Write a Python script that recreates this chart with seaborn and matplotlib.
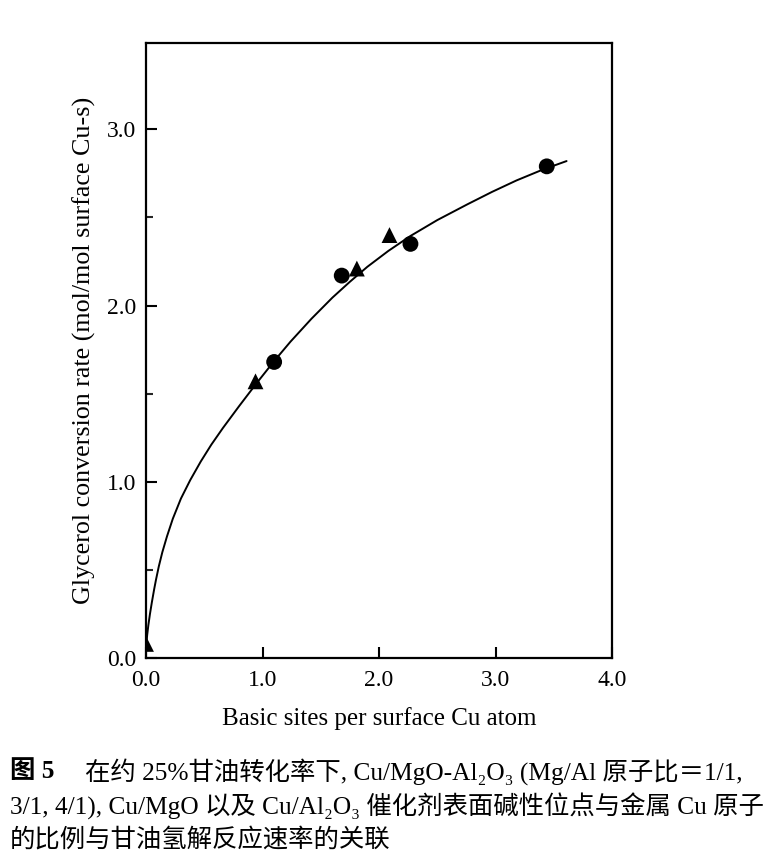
import matplotlib
matplotlib.use("Agg")
import matplotlib.pyplot as plt
import seaborn as sns
import pandas as pd
from matplotlib.ticker import MultipleLocator

# ---- data ----
circle_x = [1.10, 1.68, 2.27, 3.44]
circle_y = [1.68, 2.17, 2.35, 2.79]
triangle_x = [0.0, 0.94, 1.81, 2.09]
triangle_y = [0.08, 1.57, 2.21, 2.40]
curve_x = [0.0, 0.01, 0.02, 0.034, 0.05, 0.07, 0.086, 0.11, 0.14, 0.18, 0.23, 0.30,
           0.38, 0.47, 0.56, 0.66, 0.80, 0.95, 1.10, 1.24, 1.42, 1.60, 1.75, 1.90,
           2.08, 2.27, 2.50, 2.76, 2.97, 3.18, 3.40, 3.61]
curve_y = [0.05, 0.13, 0.185, 0.25, 0.315, 0.39, 0.445, 0.52, 0.60, 0.69, 0.79, 0.905,
           1.01, 1.115, 1.21, 1.305, 1.43, 1.56, 1.685, 1.795, 1.925, 2.045, 2.135, 2.22,
           2.31, 2.395, 2.485, 2.575, 2.645, 2.71, 2.77, 2.82]
x_ticks = [0.0, 1.0, 2.0, 3.0, 4.0]
y_ticks = [0.0, 1.0, 2.0, 3.0]
x_label = "Basic sites per surface Cu atom"
y_label = "Glycerol conversion rate (mol/mol surface Cu-s)"
caption_head = "图 5"
caption_lines = [
    "在约 25%甘油转化率下, Cu/MgO-Al₂O₃ (Mg/Al 原子比＝1/1,",
    "3/1, 4/1), Cu/MgO 以及 Cu/Al₂O₃ 催化剂表面碱性位点与金属 Cu 原子",
    "的比例与甘油氢解反应速率的关联",
]

sns.set_theme(style="ticks")
plt.rcParams["font.family"] = ["Liberation Serif", "Noto Sans CJK SC", "DejaVu Serif"]
plt.rcParams["axes.edgecolor"] = "black"
plt.rcParams["xtick.direction"] = "in"
plt.rcParams["ytick.direction"] = "in"

pts = pd.DataFrame({
    "x": circle_x + triangle_x,
    "y": circle_y + triangle_y,
    "kind": ["circle"] * len(circle_x) + ["triangle"] * len(triangle_x),
})
curve = pd.DataFrame({"x": curve_x, "y": curve_y})

fig = plt.figure(figsize=(7.72, 8.6), dpi=100)
ax = fig.add_axes([146 / 772, 1 - 658 / 860, (612 - 146) / 772, (658 - 43) / 860])

sns.lineplot(data=curve, x="x", y="y", ax=ax, color="black", linewidth=1.4,
             sort=False, estimator=None)
sns.scatterplot(data=pts, x="x", y="y", style="kind", markers={"circle": "o", "triangle": "^"},
                ax=ax, color="black", s=130, edgecolor="black", linewidth=0, legend=False,
                zorder=3)

ax.set_xlim(0, 4.0)
ax.set_ylim(0, 3.49)
ax.set_xticks(x_ticks)
ax.set_yticks(y_ticks)
ax.set_xticklabels([f"{v:.1f}" for v in x_ticks])
ax.set_yticklabels([f"{v:.1f}" for v in y_ticks])
ax.yaxis.set_minor_locator(MultipleLocator(0.5))
ax.tick_params(axis="both", which="major", direction="in", length=8, width=1.5,
               labelsize=17, colors="black", pad=7)
ax.tick_params(axis="x", which="major", pad=9)
ax.tick_params(axis="y", which="minor", direction="in", length=5, width=1.5)
for sp in ax.spines.values():
    sp.set_linewidth(1.6)
    sp.set_color("black")

ax.set_xlabel(x_label, fontsize=18, labelpad=11, color="black")
ax.set_ylabel(y_label, fontsize=18.7, labelpad=8, color="black")

fig.text(10 / 772, 1 - 772 / 860, caption_head, fontsize=18.3, fontweight="bold",
         va="center", ha="left", color="black")
ys = [772, 806, 840]
xs = [85, 10, 10]
for line, yy, xx in zip(caption_lines, ys, xs):
    fig.text(xx / 772, 1 - yy / 860, line, fontsize=18.3, va="center", ha="left", color="black")

fig.savefig("out.png", dpi=100, facecolor="white")
